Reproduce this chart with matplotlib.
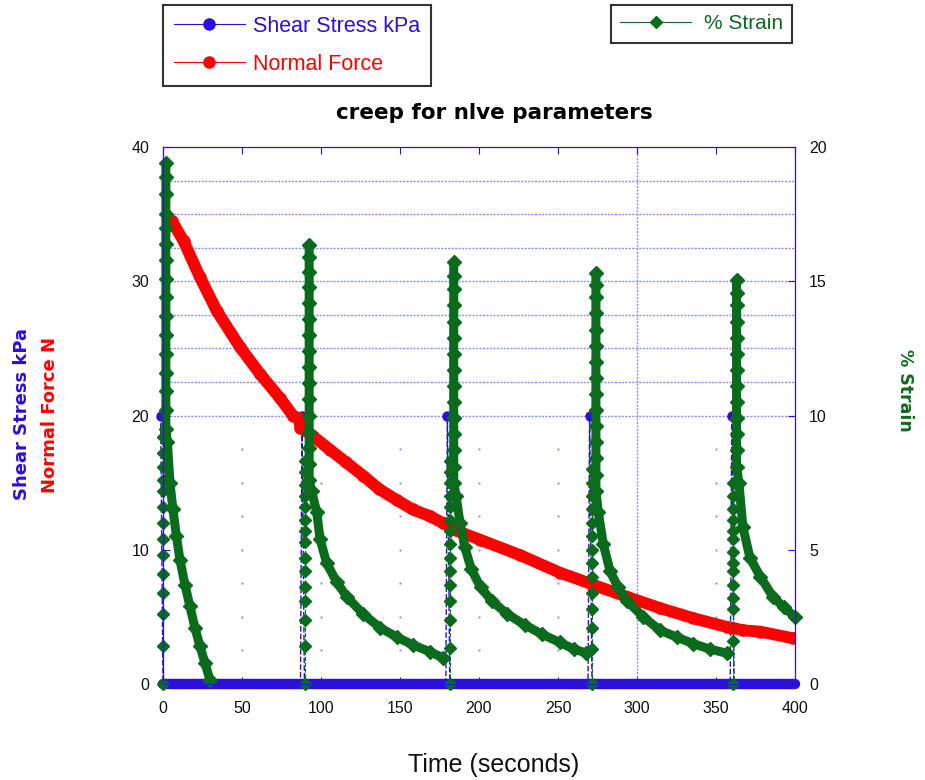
import matplotlib
matplotlib.use("Agg")
import matplotlib.pyplot as plt
from matplotlib.lines import Line2D

plt.rcParams["font.family"] = ["Liberation Sans", "DejaVu Sans"]

BLUE = "#2a10d8"
RED = "#ff0000"
GREEN = "#0b6b1d"
GRID = "#8c8cff"

# normal force (N)
force_t = [0, 5.5, 13, 23.4, 34, 48.7, 61.4, 74, 82.5, 86, 87, 95, 105.7, 116,
           126.8, 137, 148, 158, 169, 177, 180, 181.6, 200.6, 226, 251, 270,
           272, 293.5, 314.6, 335.7, 356.8, 360, 367, 378, 399]
force_n = [34.0, 34.5, 33.0, 30.3, 27.8, 25.1, 23.1, 21.3, 19.95, 19.8, 19.1,
           18.45, 17.45, 16.5, 15.5, 14.5, 13.7, 13.0, 12.5, 12.0, 11.9, 11.6,
           10.75, 9.6, 8.3, 7.5, 7.4, 6.5, 5.65, 4.9, 4.25, 4.2, 4.0, 3.9, 3.4]

# shear stress (kPa): 20 at each load step, 0 the rest of the time
shear_t = [-1.5, 0, 87, 88, 89.5, 179, 180, 181.5, 269, 270, 271.5, 359, 360, 361.5, 400]
shear_kpa = [20, 0, 0, 20, 0, 0, 20, 0, 0, 20, 0, 0, 20, 0, 0]

# % strain, one entry per load cycle
step_t = [0, 90, 181.5, 271.5, 361]
rise = [
    [0, 1.4, 2.6, 3.4, 4.1, 4.8, 5.4, 6.0, 6.6, 7.2, 7.6, 8.1, 8.6, 9.2],
    [0, 1.4, 2.4, 3.1, 3.6, 4.2, 4.7, 5.3, 5.7, 6.1, 6.6, 7.0, 7.4, 7.9, 8.3],
    [0, 1.35, 2.4, 3.1, 3.7, 4.2, 4.7, 5.2, 5.7, 6.1, 6.6, 7.0, 7.5, 7.9, 8.3],
    [0, 1.3, 2.1, 2.8, 3.4, 4.0, 4.5, 5.0, 5.5, 6.0, 6.5, 7.0, 7.5, 8.0],
    [0, 1.6, 2.8, 3.2, 3.7, 4.2, 4.5, 4.9, 5.4, 5.7, 6.1, 6.5, 7.0, 7.5],
]
column_t = [1.8, 92.5, 184, 274, 363]
column = [
    [19.4, 18.9, 18.25, 17.5, 17.0, 16.4, 15.8, 15.1, 14.4, 13.7, 13.0, 12.3, 11.6, 10.9, 10.2, 9.5],
    [16.35, 15.9, 15.35, 14.8, 14.2, 13.6, 13.0, 12.4, 11.8, 11.2, 10.6, 10.0, 9.4, 8.8, 8.2, 7.6],
    [15.7, 15.2, 14.7, 14.1, 13.5, 12.9, 12.3, 11.7, 11.1, 10.5, 9.9, 9.3, 8.7, 8.1, 7.5],
    [15.3, 14.85, 14.4, 13.8, 13.2, 12.6, 12.0, 11.4, 10.8, 10.2, 9.6, 9.0, 8.4, 7.8, 7.2],
    [15.05, 14.55, 14.1, 13.5, 12.9, 12.3, 11.7, 11.1, 10.5, 9.9, 9.3, 8.7, 8.1],
]
decay_t = [
    [2.8, 4.4, 6.3, 8.5, 10.8, 13.9, 17.0, 20.2, 23.4, 26.5, 29.7],
    [94, 97.3, 99.4, 103.6, 109.9, 116.3, 126.8, 137.3, 147.9, 158.4, 169.0, 177.4],
    [185.5, 188, 191, 195, 201, 208, 218, 229, 240, 251, 260, 268],
    [275.5, 278.7, 283, 288, 293.5, 304, 314.6, 325, 335.7, 346, 356.8],
    [364.5, 367, 371.5, 378, 386, 393, 400],
]
decay = [
    [9.0, 7.5, 6.5, 5.5, 4.6, 3.7, 2.9, 2.1, 1.4, 0.8, 0.15],
    [7.2, 6.4, 5.4, 4.5, 3.8, 3.25, 2.6, 2.1, 1.75, 1.45, 1.2, 0.97],
    [7.0, 6.0, 5.1, 4.3, 3.6, 3.1, 2.6, 2.2, 1.85, 1.55, 1.3, 1.15],
    [6.4, 5.2, 4.2, 3.6, 3.1, 2.5, 2.0, 1.75, 1.5, 1.3, 1.15],
    [7.5, 5.85, 4.7, 4.0, 3.25, 2.85, 2.5],
]

x_ticks = [0, 50, 100, 150, 200, 250, 300, 350, 400]
left_ticks = [0, 10, 20, 30, 40]
right_ticks = [0, 5, 10, 15, 20]

fig = plt.figure(figsize=(9.25, 7.8), dpi=100)
ax = fig.add_axes([163 / 925, 96 / 780, 632 / 925, 537 / 780])
ax.set_xlim(0, 400)
ax.set_ylim(0, 40)

# the grid only half rendered in the original: full dotted lines above 20,
# one line at x=300, and stray dots elsewhere
for y in [20, 22.5, 25, 27.5, 30, 32.5, 35, 37.5]:
    ax.axhline(y, color=GRID, lw=1, ls=(0, (1.5, 1)), zorder=0)
ax.axvline(300, color=GRID, lw=1, ls=(0, (1.5, 1)), zorder=0)
for x in [50, 100, 150, 200, 250, 350]:
    ax.plot([x] * 7, [2.5, 5, 7.5, 10, 12.5, 15, 17.5], ls="", marker="s",
            ms=1.5, color=GRID, mec="none", zorder=0)

# shear stress
ax.plot(shear_t, shear_kpa, color=BLUE, lw=1, ls=(0, (4, 1.5)), clip_on=False, zorder=2)
zero_t = [t for t, s in zip(shear_t, shear_kpa) if s == 0]
ax.plot(zero_t, [0] * len(zero_t), color=BLUE, lw=7.5, solid_capstyle="round",
        clip_on=False, zorder=2)
top_t = [t for t, s in zip(shear_t, shear_kpa) if s == 20]
ax.plot(top_t, [20] * len(top_t), ls="", marker="o", ms=6.5, color=BLUE,
        clip_on=False, zorder=2)

# normal force
ax.plot(force_t, force_n, color=RED, lw=8.5, marker="o", ms=8,
        solid_capstyle="round", zorder=3)

for side in ["left", "right", "top", "bottom"]:
    ax.spines[side].set_color(BLUE)
ax.set_xticks(x_ticks)
ax.set_yticks(left_ticks)
ax.tick_params(direction="in", top=True, color=BLUE, length=5, labelsize=11.5,
               labelcolor="#111111")
ax.tick_params(axis="x", pad=12)
ax.tick_params(axis="y", pad=10)

# % strain on the right
ax2 = ax.twinx()
ax2.set_ylim(0, 20)
ax2.set_yticks(right_ticks)
ax2.tick_params(direction="in", color=BLUE, length=5, labelsize=11.5,
                labelcolor="#111111", pad=10)
for side in ["left", "right", "top", "bottom"]:
    ax2.spines[side].set_color(BLUE)

for i in range(len(step_t)):
    ax2.plot([step_t[i]] * len(rise[i]), rise[i], color=GREEN, lw=0.8,
             ls="--", marker="D", ms=6.5, clip_on=False)
    ts = [column_t[i]] * len(column[i]) + decay_t[i]
    vals = column[i] + decay[i]
    ax2.plot(ts, vals, color=GREEN, lw=6.5, marker="D", ms=7,
             solid_capstyle="round", clip_on=False)

fig.text(494 / 925, 1 - 113 / 780, "creep for nlve parameters", ha="center",
         va="center", fontsize=15.5, fontweight="bold", family="DejaVu Sans")
fig.text(494 / 925, 1 - 765 / 780, "Time (seconds)", ha="center",
         va="center", fontsize=18, color="#111111")
fig.text(22 / 925, 1 - 414 / 780, "Shear Stress kPa", rotation=90,
         ha="center", va="center", fontsize=13, fontweight="bold",
         color=BLUE, family="DejaVu Sans")
fig.text(50 / 925, 1 - 415 / 780, "Normal Force N", rotation=90,
         ha="center", va="center", fontsize=13, fontweight="bold",
         color=RED, family="DejaVu Sans")
fig.text(905 / 925, 1 - 390 / 780, "% Strain", rotation=270,
         ha="center", va="center", fontsize=12.5, fontweight="bold",
         color=GREEN, family="DejaVu Sans")

h1 = [Line2D([], [], color=BLUE, lw=0.8, marker="o", ms=8),
      Line2D([], [], color=RED, lw=0.8, marker="o", ms=8)]
leg1 = fig.legend(h1, ["Shear Stress kPa", "Normal Force"], loc="upper left",
                  bbox_to_anchor=(163 / 925, 1 - 5 / 780), fontsize=15.5,
                  frameon=True, fancybox=False, edgecolor="black",
                  handlelength=3.3, handletextpad=0.4, labelspacing=0.8,
                  borderpad=0.5, borderaxespad=0)
leg1.get_frame().set_linewidth(1.5)
for txt, c in zip(leg1.get_texts(), [BLUE, RED]):
    txt.set_color(c)

h2 = [Line2D([], [], color=GREEN, lw=0.8, marker="D", ms=6.5)]
leg2 = fig.legend(h2, ["% Strain"], loc="upper right",
                  bbox_to_anchor=(792 / 925, 1 - 5 / 780), fontsize=15,
                  frameon=True, fancybox=False, edgecolor="black",
                  handlelength=3.4, handletextpad=0.6, borderpad=0.45,
                  borderaxespad=0)
leg2.get_frame().set_linewidth(1.5)
leg2.get_texts()[0].set_color(GREEN)

fig.savefig("out.png", dpi=100)
